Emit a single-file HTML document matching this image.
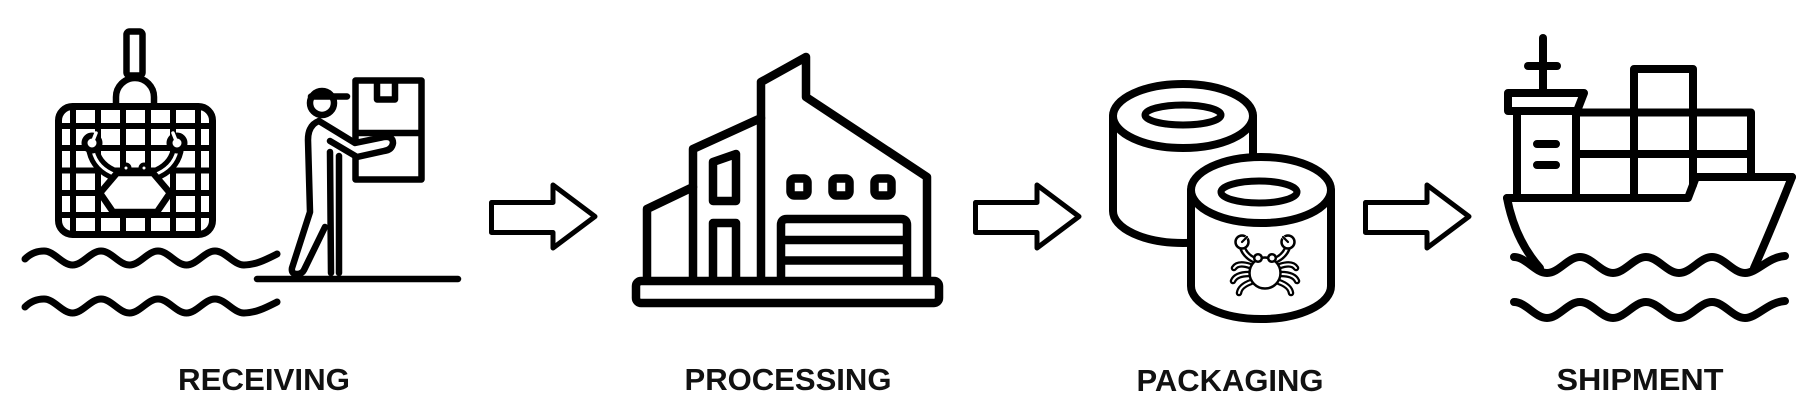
<!DOCTYPE html>
<html>
<head>
<meta charset="utf-8">
<style>
html,body{margin:0;padding:0;background:#fff;}
body{width:1810px;height:413px;overflow:hidden;}
svg{display:block;}
text{font-family:"Liberation Sans",Arial,sans-serif;font-weight:bold;font-size:31px;fill:#111;}
</style>
</head>
<body>
<svg width="1810" height="413" viewBox="0 0 1810 413" xmlns="http://www.w3.org/2000/svg">
<rect width="1810" height="413" fill="#fff"/>
<g fill="none" stroke="#000" stroke-linecap="round" stroke-linejoin="round">

<!-- ============ RECEIVING ============ -->
<!-- crane rod -->
<rect x="126.5" y="31.5" width="16" height="44" rx="3" stroke-width="6.5" fill="#fff"/>
<!-- dome -->
<path d="M116,106 L116,97 A19,19 0 0 1 154,97 L154,106" stroke-width="6.5" fill="#fff"/>
<!-- cage -->
<rect x="58.5" y="106.5" width="154" height="128" rx="14" stroke-width="7" fill="#fff"/>
<g stroke-width="6" stroke-linecap="butt">
<path d="M73,107 V234 M98,107 V234 M123,107 V234 M148,107 V234 M173,107 V234 M198,107 V234"/>
<path d="M59,126 H212 M59,148 H212 M59,170.5 H212 M59,193 H212 M59,215 H212"/>
</g>
<!-- crab in cage -->
<path d="M93,151 Q97,168 116,175" stroke-width="13"/>
<path d="M93,151 Q97,168 116,175" stroke-width="3" stroke="#fff"/>
<path d="M177,151 Q173,168 154,175" stroke-width="13"/>
<path d="M177,151 Q173,168 154,175" stroke-width="3" stroke="#fff"/>
<circle cx="92" cy="143" r="7.5" stroke-width="6" fill="#fff"/>
<path d="M92,143 L96,133" stroke="#fff" stroke-width="3.5"/>
<circle cx="177" cy="143" r="7.5" stroke-width="6" fill="#fff"/>
<path d="M177,143 L173,133" stroke="#fff" stroke-width="3.5"/>
<path d="M100,193 L117,173 L153,173 L170,193 L157,212 L113,212 Z" stroke-width="6.5" fill="#fff"/>
<circle cx="126" cy="168" r="3.5" stroke-width="4" fill="#fff"/>
<circle cx="144" cy="168" r="3.5" stroke-width="4" fill="#fff"/>

<!-- waves left -->
<g stroke-width="7">
<path id="w1" d="M25,259 C30,254 36,251 44,251 C54.3,251 62.2,265 72.5,265 C82.8,265 90.7,251 101,251 C111.3,251 119.2,265 129.5,265 C139.8,265 147.7,251 158,251 C168.3,251 176.2,265 186.5,265 C196.8,265 204.7,251 215,251 C225.5,251 233.5,265 244,265 C256,265 267,259 277,254"/>
<path d="M25,259 C30,254 36,251 44,251 C54.3,251 62.2,265 72.5,265 C82.8,265 90.7,251 101,251 C111.3,251 119.2,265 129.5,265 C139.8,265 147.7,251 158,251 C168.3,251 176.2,265 186.5,265 C196.8,265 204.7,251 215,251 C225.5,251 233.5,265 244,265 C256,265 267,259 277,254" transform="translate(0,48)"/>
</g>

<!-- ground -->
<path d="M257,279 L458,279" stroke-width="6.5"/>
<!-- person -->
<g stroke-width="6.5">
<rect x="355.5" y="80.5" width="66" height="99" fill="#fff"/>
<path d="M377,83 L377,99.5 L395,99.5 L395,83"/>
<path d="M356,133 L421,133"/>
<path d="M330,152 L331,273"/>
<path d="M339,156 L339,273"/>
<path d="M319,121 Q308,125 308,140 L310,212 L292,268 Q291,274 297,274 Q302,274 304,270 L325,227"/>
<path d="M319,121 L355,143 L384,137 Q393,136 393,143 Q392,150 384,151 L357,157 L330,141" fill="#fff"/>
<circle cx="322" cy="103" r="12" fill="#fff"/>
<path d="M311,96.5 L347,96.5"/>
</g>

<!-- ============ ARROWS ============ -->
<g stroke-width="5">
<path d="M491.5,202.5 L553,202.5 L553,185 L595,216.5 L553,248 L553,232.5 L491.5,232.5 Z"/>
<path d="M491.5,202.5 L553,202.5 L553,185 L595,216.5 L553,248 L553,232.5 L491.5,232.5 Z" transform="translate(484,0)"/>
<path d="M491.5,202.5 L553,202.5 L553,185 L595,216.5 L553,248 L553,232.5 L491.5,232.5 Z" transform="translate(874,0)"/>
</g>

<!-- ============ PROCESSING (factory) ============ -->
<g stroke-width="8.5">
<path d="M647,281 L647,209 L693,187 L693,149 L761,118 L761,82 L806,57 L806,97 L927,177 L927,281"/>
<path d="M693,187 L693,281 M761,118 L761,281"/>
<path d="M713,162 L736,154 L736,201 L713,201 Z"/>
<path d="M713,281 L713,223 L736,223 L736,281"/>
<rect x="790.5" y="178.5" width="17" height="17" rx="4"/>
<rect x="832.5" y="178.5" width="17" height="17" rx="4"/>
<rect x="874.5" y="178.5" width="17" height="17" rx="4"/>
<path d="M781,281 L781,225 Q781,219 787,219 L901,219 Q907,219 907,225 L907,281"/>
<path d="M781,240 L907,240 M781,260.5 L907,260.5" stroke-linecap="butt"/>
<rect x="636" y="281" width="303" height="22" rx="5" fill="#fff"/>
</g>

<!-- ============ PACKAGING (cans) ============ -->
<g stroke-width="8">
<path d="M1113,116 L1113,211 A70,32 0 0 0 1253,211 L1253,116" fill="#fff"/>
<ellipse cx="1183" cy="116" rx="70" ry="32" fill="#fff"/>
<ellipse cx="1183" cy="115" rx="38" ry="10" stroke-width="7"/>
<path d="M1191,190 L1191,286 A70,33 0 0 0 1331,286 L1331,190 Z" fill="#fff"/>
<ellipse cx="1261" cy="190" rx="70" ry="33" fill="#fff"/>
<ellipse cx="1259" cy="192" rx="38" ry="11" stroke-width="7"/>
</g>
<!-- crab on can -->
<g>
<path d="M1243,249 Q1246,256 1254,260 M1287,249 Q1284,256 1276,260" stroke-width="7"/>
<path d="M1243,249 Q1246,256 1254,260 M1287,249 Q1284,256 1276,260" stroke-width="2.2" stroke="#fff"/>
<path d="M1250,266 Q1238,262 1234,268 M1249,274 Q1236,274 1233,281 M1251,282 Q1240,286 1239,293 M1280,266 Q1292,262 1296,268 M1281,274 Q1294,274 1297,281 M1279,282 Q1290,286 1291,293" stroke-width="6.5"/>
<path d="M1250,266 Q1238,262 1234,268 M1249,274 Q1236,274 1233,281 M1251,282 Q1240,286 1239,293 M1280,266 Q1292,262 1296,268 M1281,274 Q1294,274 1297,281 M1279,282 Q1290,286 1291,293" stroke-width="2" stroke="#fff"/>
<circle cx="1242" cy="242" r="6.5" stroke-width="2.5" fill="#fff"/>
<path d="M1242,242 L1248,236" stroke="#fff" stroke-width="3"/>
<path d="M1242,242 L1247,237" stroke-width="2.2"/>
<circle cx="1288" cy="242" r="6.5" stroke-width="2.5" fill="#fff"/>
<path d="M1288,242 L1282,236" stroke="#fff" stroke-width="3"/>
<path d="M1288,242 L1283,237" stroke-width="2.2"/>
<circle cx="1265" cy="273" r="15.5" stroke-width="2.5" fill="#fff"/>
<circle cx="1258" cy="258" r="3.8" stroke-width="2.5" fill="#fff"/>
<circle cx="1272" cy="258" r="3.8" stroke-width="2.5" fill="#fff"/>
</g>

<!-- ============ SHIPMENT (ship) ============ -->
<g stroke-width="8">
<path d="M1543,38 L1543,93"/>
<path d="M1528,66 L1557,66"/>
<path d="M1508,111 L1508,93 L1584,93 L1577,111 Z"/>
<path d="M1517,111 L1517,198"/>
<path d="M1576,111 L1576,198"/>
<path d="M1537,144 L1556,144 M1537,165 L1556,165"/>
<path d="M1634,112 L1634,69 L1693,69 L1693,112"/>
<path d="M1576,112.5 L1751,112.5 L1751,177"/>
<path d="M1576,154 L1751,154"/>
<path d="M1634,112 L1634,198"/>
<path d="M1693,112 L1693,185"/>
<path d="M1507,198 L1688,198 L1696,177 L1792,177"/>
<path d="M1507,198 Q1515,240 1540,268"/>
<path d="M1792,177 Q1773,225 1754,268"/>
<path d="M1514,257 C1526,257 1535,273 1547,273 C1559,273 1568,257 1580,257 C1592,257 1601,273 1613,273 C1625,273 1634,257 1646,257 C1658,257 1667,273 1679,273 C1691,273 1700,257 1712,257 C1724,257 1733,273 1745,273 C1757,273 1768,257 1785,256"/>
<path d="M1514,257 C1526,257 1535,273 1547,273 C1559,273 1568,257 1580,257 C1592,257 1601,273 1613,273 C1625,273 1634,257 1646,257 C1658,257 1667,273 1679,273 C1691,273 1700,257 1712,257 C1724,257 1733,273 1745,273 C1757,273 1768,257 1785,256" transform="translate(0,45)"/>
</g>
</g>

<!-- labels -->
<text x="264" y="390" text-anchor="middle" textLength="172" lengthAdjust="spacingAndGlyphs">RECEIVING</text>
<text x="788" y="390" text-anchor="middle" textLength="207" lengthAdjust="spacingAndGlyphs">PROCESSING</text>
<text x="1230" y="391" text-anchor="middle" textLength="187" lengthAdjust="spacingAndGlyphs">PACKAGING</text>
<text x="1640" y="390" text-anchor="middle" textLength="167" lengthAdjust="spacingAndGlyphs">SHIPMENT</text>
</svg>
</body>
</html>
